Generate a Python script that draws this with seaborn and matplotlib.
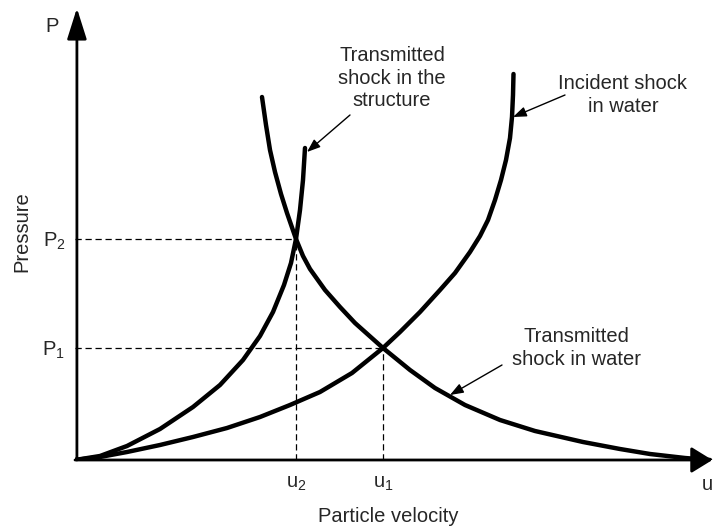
import numpy as np
import pandas as pd
import matplotlib
matplotlib.use("Agg")
import matplotlib.pyplot as plt
import seaborn as sns

# curve samples (u = particle velocity, P = pressure, arbitrary units)
incident_u = [0, 25, 52, 85, 118, 152, 185, 215, 245, 277, 308, 325, 345, 365, 380,
              395, 405, 413, 420, 426, 431, 435, 437, 438, 438.5]
incident_p = [0, 3, 8, 15, 23, 32, 43, 55, 68, 87, 112, 128, 148, 170, 187,
              208, 224, 240, 260, 280, 300, 322, 343, 365, 386]

structure_u = [0, 25, 52, 85, 118, 145, 168, 185, 198, 209, 216, 221, 225, 228, 230]
structure_p = [0, 4, 14, 31, 53, 75, 100, 124, 148, 175, 197, 221, 250, 280, 312]

water_u = [187, 191, 195, 200, 206, 212, 221, 228, 235, 250, 265, 280, 308, 335, 360,
           390, 425, 460, 508, 545, 575, 610, 635]
water_p = [363, 335, 310, 288, 266, 247, 221, 204, 191, 170, 153, 137, 112, 90, 72,
           55, 40, 29, 18, 11, 6, 2, 0]

# states at the two crossings
u_ticks = [221, 308]
u_labels = ["u$_2$", "u$_1$"]
p_ticks = [221, 112]
p_labels = ["P$_2$", "P$_1$"]

df = pd.concat([
    pd.DataFrame({"u": incident_u, "P": incident_p, "curve": "incident"}),
    pd.DataFrame({"u": structure_u, "P": structure_p, "curve": "structure"}),
    pd.DataFrame({"u": water_u, "P": water_p, "curve": "water"}),
])

sns.set_theme(style="white")
plt.rcParams["font.family"] = ["Liberation Sans", "DejaVu Sans"]
plt.rcParams["mathtext.fontset"] = "custom"
plt.rcParams["mathtext.rm"] = "Liberation Sans"
plt.rcParams["mathtext.default"] = "regular"

fs = 14.5

fig = plt.figure(figsize=(7.13, 5.29), dpi=100)
ax = fig.add_axes([75 / 713, 69 / 529, 638 / 713, 455 / 529])

sns.lineplot(data=df, x="u", y="P", units="curve", estimator=None, sort=False,
             color="black", lw=3.2, ax=ax)
for line in ax.lines:
    line.set_solid_joinstyle("round")
    line.set_solid_capstyle("round")

# dashed guides from the crossings to the axes
for u, p in zip(u_ticks, p_ticks):
    ax.plot([0, u], [p, p], color="black", lw=0.9, ls=(0, (5, 3)))
    ax.plot([u, u], [0, p], color="black", lw=0.9, ls=(0, (5, 3)))

ax.set_xlim(0, 638)
ax.set_ylim(0, 455)
for s in ax.spines.values():
    s.set_visible(False)

ax.set_xticks(u_ticks)
ax.set_xticklabels(u_labels, fontsize=fs)
ax.set_yticks(p_ticks)
ax.set_yticklabels(p_labels, fontsize=fs)
ax.tick_params(length=0)
ax.tick_params(axis="x", pad=10)
ax.tick_params(axis="y", pad=7)
ax.set_xlabel("")
ax.set_ylabel("")

# axes with arrow heads
ax.annotate("", xy=(0.999, 0), xytext=(0, 0), xycoords="axes fraction",
            arrowprops=dict(arrowstyle="-|>,head_length=13,head_width=8",
                            mutation_scale=1, lw=2, color="black",
                            shrinkA=0, shrinkB=0))
ax.annotate("", xy=(0.003, 0.993), xytext=(0.003, 0), xycoords="axes fraction",
            arrowprops=dict(arrowstyle="-|>,head_length=19,head_width=6",
                            mutation_scale=1, lw=2, color="black",
                            shrinkA=0, shrinkB=0))

ax.text(-23, 433, "P", fontsize=fs, ha="center", va="center")
ax.text(632, -25, "u", fontsize=fs, ha="center", va="center")
ax.text(-53, 228, "Pressure", fontsize=fs, rotation=90, ha="center", va="center")
ax.text(313, -57, "Particle velocity", fontsize=fs, ha="center", va="center")

arrow = dict(arrowstyle="-|>,head_length=8,head_width=3", mutation_scale=1,
             lw=1, color="black", shrinkA=0, shrinkB=0)
ax.text(317, 382, "Transmitted\nshock in the\nstructure", fontsize=fs,
        ha="center", va="center", linespacing=1.25)
ax.annotate("", xy=(232, 308), xytext=(275, 345), arrowprops=arrow)
ax.text(548, 365, "Incident shock\nin water", fontsize=fs,
        ha="center", va="center", linespacing=1.25)
ax.annotate("", xy=(438, 343), xytext=(490, 365), arrowprops=arrow)
ax.text(501, 112, "Transmitted\nshock in water", fontsize=fs,
        ha="center", va="center", linespacing=1.25)
ax.annotate("", xy=(375, 65), xytext=(427, 95), arrowprops=arrow)

fig.savefig("out.png", dpi=100)
